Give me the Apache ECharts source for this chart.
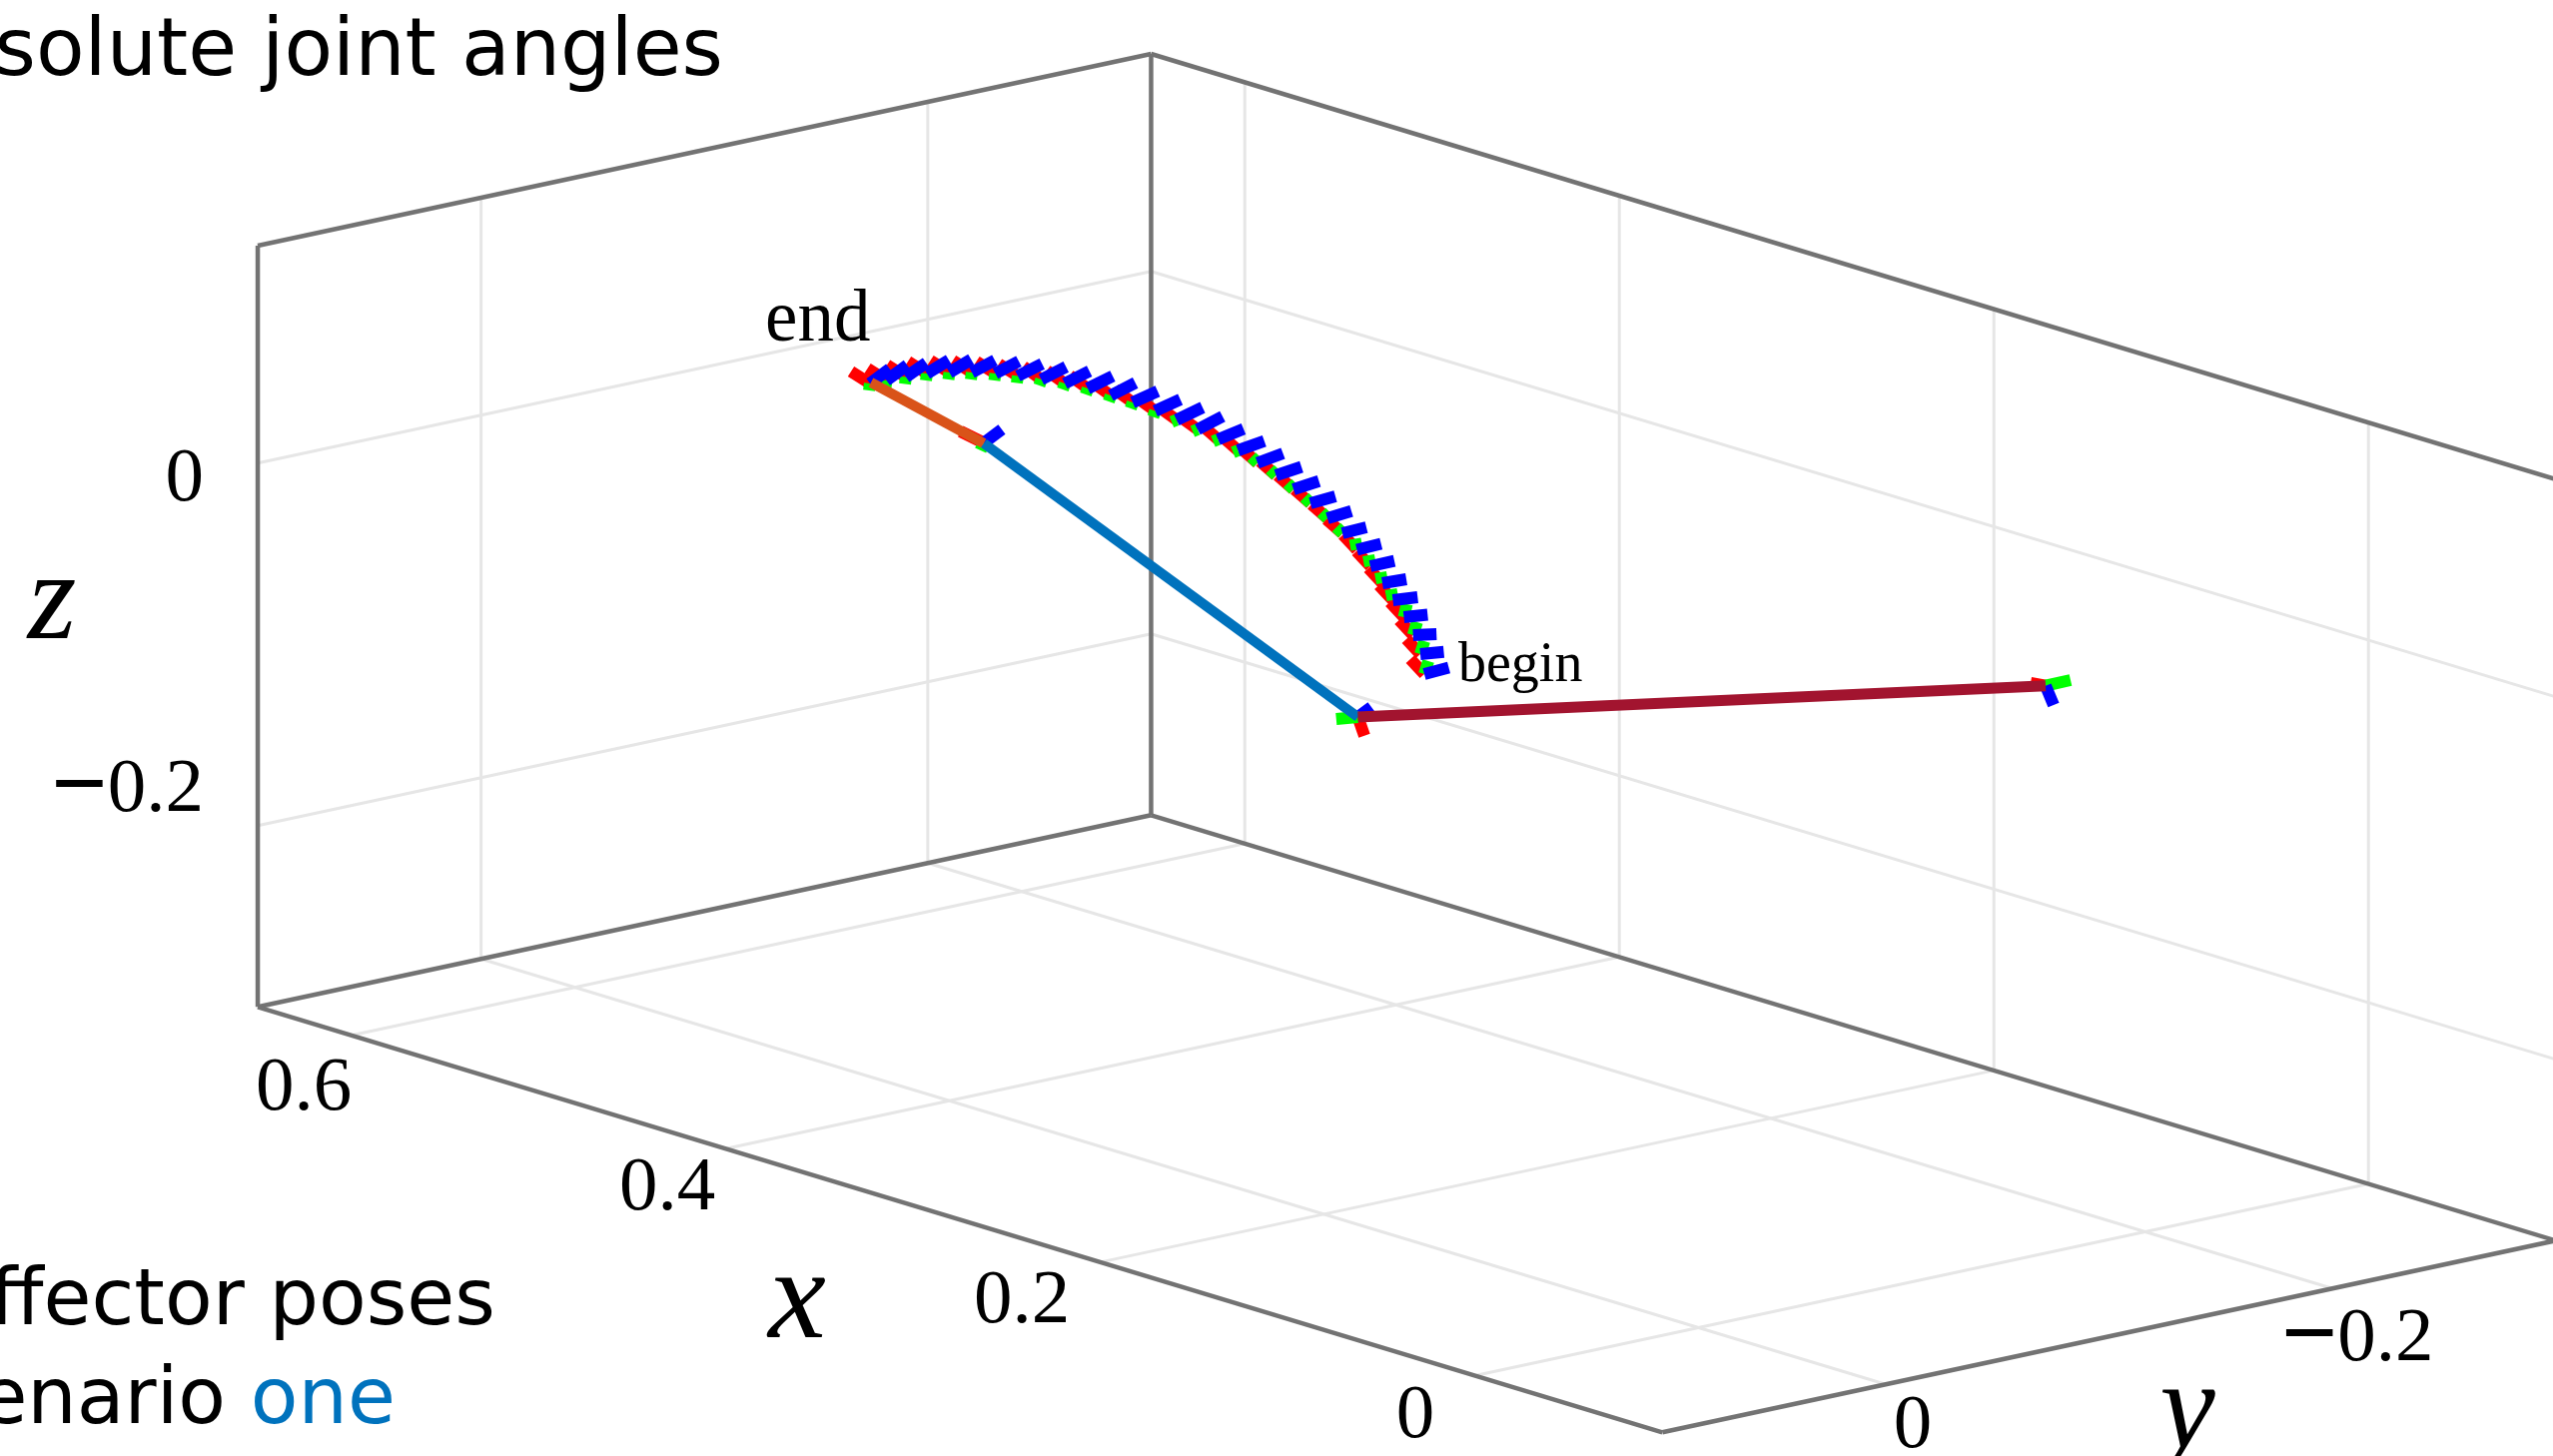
<!DOCTYPE html>
<html><head><meta charset="utf-8">
<style>html,body{margin:0;padding:0;background:#fff;overflow:hidden}#c{width:2556px;height:1458px}</style>
<script src="https://cdn.jsdelivr.net/npm/echarts@6/dist/echarts.min.js"></script>
</head><body><div id="c"></div>
<script>
// Axis limits and ticks of the 3-D box
const xLim = [-0.1, 0.65], yLim = [-0.3, 0.1], zLim = [-0.3, 0.12];
const xTicks = [0, 0.2, 0.4, 0.6], yTicks = [0, -0.2], zTicks = [0, -0.2];
// View-plane position of the pose trajectory
const poseOrigins = [[871,384],[887.5,381],[907,377.5],[928,374],[950.5,373],[973,373],[996.5,374],[1019,376.5],[1042.5,380],[1066,384],[1089,389],[1112,396],[1134,403],[1156.5,411.5],[1178,420.5],[1199,430],[1219.5,440],[1239.5,451],[1259,463.5],[1277.5,476],[1295,490],[1312,504],[1329,519],[1344,534],[1358.5,550.5],[1372,567],[1384,584],[1394.5,601],[1405.5,618],[1414.7,636],[1422,655],[1426,675]];
const redTips = [[852,372],[868.5,369],[888,365.5],[909,362],[931.5,361],[954,361],[977.5,362],[1000,364.5],[1024.5,367],[1048,371],[1071,376],[1094,383],[1116,390],[1138.5,398.5],[1160,407.5],[1181,417],[1203.5,426],[1223.5,437],[1243,449.5],[1261.5,462],[1279,476],[1296,490],[1313,505],[1328,520],[1344.5,535.5],[1358,552],[1370,569],[1380.5,586],[1391.5,603],[1400.7,621],[1408,640],[1412,660]];
const greenTips = [[870,391],[886.5,388],[906,384.5],[927,381],[949.5,380],[972,380],[995.5,381],[1018,383.5],[1040.5,386],[1064,390],[1087,395],[1110,402],[1132,409],[1154.5,417.5],[1173,422.5],[1194,432],[1214.5,442],[1234.5,453],[1253,457.5],[1271.5,470],[1289,484],[1306,498],[1323,513],[1338,528],[1356.5,539.5],[1370,556],[1382,573],[1392.5,590],[1408.5,605],[1418.7,623],[1426,642],[1430,662]];
const blueTips = [[890.7,369.3],[908.3,365.7],[927.3,363.3],[950,360.7],[972.3,360],[996,360.7],[1020,361.7],[1043.3,364.3],[1067.3,367.3],[1090.7,371.7],[1114,376.7],[1136.7,383.3],[1159,391.7],[1181.7,400],[1204,408],[1224,417],[1245,429.5],[1265.8,441.7],[1284.5,454],[1303,467.5],[1320.5,481.7],[1337,497],[1353,511.7],[1368,528],[1382.7,544.5],[1396,561.7],[1408,580],[1419.3,598],[1429.3,615.5],[1438.2,635],[1445.5,652.8],[1450.5,668.5]];
// Three separate poses joined by the coloured paths
const jointPoses = [[985,443.5],[1359.5,718],[2048,686.7]];
const jointRed = [[961.7,432],[1366,736.7],[2033,684]];
const jointGreen = [[981.7,451],[1337.8,720],[2073,681]];
const jointBlue = [[1003,430],[1373,708],[2056,706]];
const orangePath = [[872,383],[985,444]];
const bluePath = [[985,444],[1359.5,718]];
const crimsonPath = [[1359.5,718],[2048,686.7]];
// Text labels
const zTickLabels = ['0','0.2'];
const xTickLabels = ['0.6','0.4','0.2','0'];
const yTickLabels = ['0','0.2'];

// Orthographic view of the 3-D box
function project(x, y, z) {
  return [1700.4 - 1875 * x - 2236 * y, 785 - 568 * x + 480 * y - 1815 * z];
}
const [x0, x1] = xLim, [y0, y1] = yLim, [z0, z1] = zLim;
const seg = (a, b) => [...project(...a), ...project(...b)];
const gridSegs = [];
yTicks.forEach(y => {
  gridSegs.push(seg([x1,y,z0],[x1,y,z1]), seg([x0,y,z0],[x1,y,z0]));
});
xTicks.forEach(x => {
  gridSegs.push(seg([x,y0,z0],[x,y0,z1]), seg([x,y0,z0],[x,y1,z0]));
});
zTicks.forEach(z => {
  gridSegs.push(seg([x1,y1,z],[x1,y0,z]), seg([x1,y0,z],[x0,y0,z]));
});
const boxSegs = [
  seg([x1,y1,z0],[x1,y1,z1]), seg([x1,y0,z0],[x1,y0,z1]),
  seg([x1,y1,z1],[x1,y0,z1]), seg([x1,y0,z1],[x0,y0,z1]),
  seg([x1,y1,z0],[x1,y0,z0]), seg([x1,y0,z0],[x0,y0,z0]),
  seg([x1,y1,z0],[x0,y1,z0]), seg([x0,y1,z0],[x0,y0,z0])
];
const ticks = (origins, tips, o2, t2) =>
  origins.map((o, i) => [...o, ...tips[i]]).concat(o2.map((o, i) => [...o, ...t2[i]]));
const segSeries = (data, color, width, z) => ({
  type: 'custom', coordinateSystem: 'cartesian2d', silent: true, z, clip: true,
  encode: {x: [0, 2], y: [1, 3]},
  renderItem: (params, api) => {
    const a = api.coord([api.value(0), api.value(1)]), b = api.coord([api.value(2), api.value(3)]);
    return {type: 'line', shape: {x1: a[0], y1: a[1], x2: b[0], y2: b[1]},
      style: {stroke: color, lineWidth: width, lineCap: 'butt', fill: null}};
  },
  data
});
const SERIF = '"Liberation Serif","Times New Roman",serif', SANS = '"DejaVu Sans",sans-serif';
const txt = (u, v, text, size, family, align, extra) => ({
  value: [u, v],
  label: Object.assign({show: true, position: 'inside', formatter: text, fontSize: size, fontFamily: family, color: '#000', align, verticalAlign: 'middle', lineHeight: size}, extra || {})
});
const minusRich = {m: {fontSize: 100, fontFamily: SERIF, fontWeight: 'bold', color: '#000'}, n: {fontSize: 77, fontFamily: SERIF, color: '#000'}};
const labels = [
  txt(724, 54, 'solute joint angles', 79.5, SANS, 'right'),
  txt(496, 1306, 'ffector poses', 78, SANS, 'right'),
  txt(396, 1405, '{a|enario }{b|one}', 78, SANS, 'right', {rich: {a: {fontSize: 78, fontFamily: SANS, color: '#000'}, b: {fontSize: 78, fontFamily: SANS, color: '#0072BD'}}}),
  txt(204, 481, zTickLabels[0], 77, SERIF, 'right'),
  txt(204, 792, '{m|\u2212}{n|' + zTickLabels[1] + '}', 77, SERIF, 'right', {rich: minusRich}),
  txt(304, 1091, xTickLabels[0], 77, SERIF, 'center'),
  txt(668, 1191, xTickLabels[1], 77, SERIF, 'center'),
  txt(1023, 1304, xTickLabels[2], 77, SERIF, 'center'),
  txt(1417, 1419, xTickLabels[3], 77, SERIF, 'center'),
  txt(1915, 1429, yTickLabels[0], 77, SERIF, 'center'),
  txt(2360, 1342, '{m|\u2212}{n|' + yTickLabels[1] + '}', 77, SERIF, 'center', {rich: minusRich}),
  txt(52, 606, 'z', 125, '"Liberation Serif",serif', 'center', {fontStyle: 'italic'}),
  txt(798, 1305, 'x', 130, '"Liberation Serif",serif', 'center', {fontStyle: 'italic'}),
  txt(2190, 1416, 'y', 125, '"Liberation Serif",serif', 'center', {fontStyle: 'italic'}),
  txt(766, 322, 'end', 73, SERIF, 'left'),
  txt(1460, 667, 'begin', 56, SERIF, 'left')
];
const chart = echarts.init(document.getElementById('c'), null, {renderer: 'canvas'});
chart.setOption({
  animation: false, backgroundColor: '#fff',
  grid: {left: 0, right: 0, top: 0, bottom: 0, containLabel: false},
  xAxis: {type: 'value', min: 0, max: 2556, show: false},
  yAxis: {type: 'value', min: 0, max: 1458, inverse: true, show: false},
  series: [
    segSeries(gridSegs, '#e6e6e6', 3, 1),
    segSeries(boxSegs, '#737373', 4.5, 2),
    segSeries(ticks(poseOrigins, redTips, jointPoses, jointRed), '#ff0000', 12, 3),
    segSeries(ticks(poseOrigins, greenTips, jointPoses, jointGreen), '#00ff00', 12, 4),
    segSeries(ticks(poseOrigins, blueTips, jointPoses, jointBlue), '#0000ff', 12, 5),
    segSeries([[...orangePath[0], ...orangePath[1]]], '#D95319', 10, 6),
    segSeries([[...bluePath[0], ...bluePath[1]]], '#0072BD', 10, 6),
    segSeries([[...crimsonPath[0], ...crimsonPath[1]]], '#A2142F', 11, 7),
    {type: 'scatter', silent: true, symbolSize: 0, itemStyle: {color: '#fff', opacity: 1}, z: 8, clip: false, data: labels}
  ]
});
</script></body></html>
